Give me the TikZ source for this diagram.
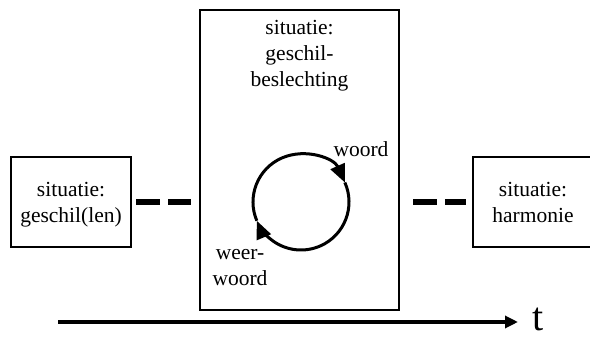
\documentclass[tikz,border=0pt]{standalone}
\usepackage{fontspec}
\setmainfont{Liberation Serif}
\usetikzlibrary{arrows.meta}

\begin{document}
\begin{tikzpicture}[x=1pt,y=1pt,
    every node/.style={font=\fontsize{21.5}{26}\selectfont, align=center},
    situatie/.style={draw, line width=2.8pt, minimum width=120pt, minimum height=90pt, inner sep=0pt, text depth=0pt},
    streep/.style={line width=6pt},
    kring/.style={line width=3pt, -{Triangle[length=18pt,width=15pt]}}]
            \useasboundingbox (0,0) rectangle (590,340);
            \node[situatie] (geschil) at (71,138) {situatie:\\geschil(len)};
            \node[situatie, minimum width=199pt, minimum height=300pt] (beslechting) at (299.5,180) {};
            \node[situatie] (harmonie) at (533,138) {situatie:\\harmonie};
            \node[anchor=north, inner sep=0pt] (titel) at ([yshift=-11pt]beslechting.north) {situatie:\\geschil-\\beslechting};
            \draw[streep, dash pattern=on 24pt off 8pt, shorten <=4pt, shorten >=8pt] (geschil.east) -- (geschil.east -| beslechting.west);
            \draw[streep, dash pattern=on 23.5pt off 8pt, shorten <=13pt, shorten >=6pt] (beslechting.east |- harmonie.west) -- (harmonie.west);
            \coordinate (kern) at (301,138);
            \draw[kring] ([shift={(203:48)}]kern) arc[start angle=203, end angle=24, radius=48];
            \draw[kring] ([shift={(24:48)}]kern) arc[start angle=24, end angle=-157, radius=48];
            \node[anchor=base] (woord) at (361,183) {woord};
            \node[anchor=north, inner sep=0pt] (weerwoord) at (240,91) {weer-\\woord};
            \coordinate (tbegin) at (58,18);
            \node[font=\fontsize{40}{40}\selectfont, inner sep=0pt, anchor=base west] (t) at (532,9) {t};
            \draw[line width=3.2pt, -{Triangle[length=13pt,width=12pt]}, shorten >=14pt] (tbegin) -- (tbegin -| t.west);
        \end{tikzpicture}
\end{document}
